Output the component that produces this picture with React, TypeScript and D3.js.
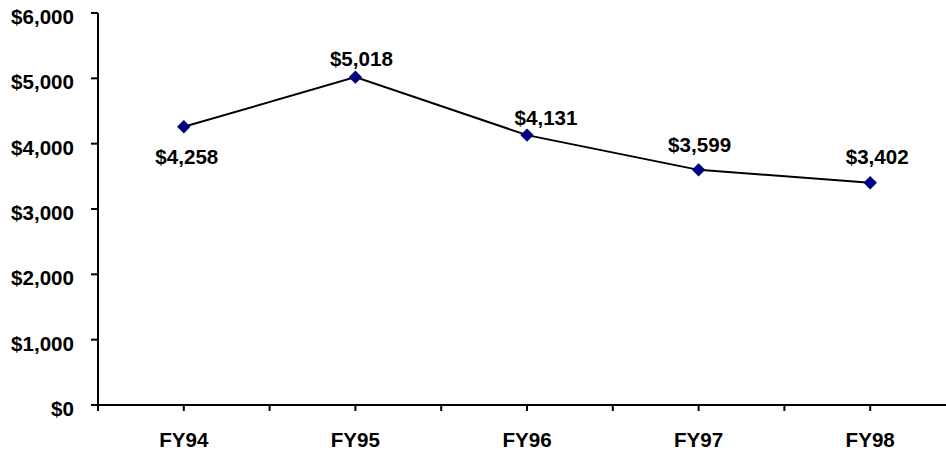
import React from "react";
import * as d3 from "d3";

const categories = ["FY94", "FY95", "FY96", "FY97", "FY98"];
const values = [4258, 5018, 4131, 3599, 3402];
const yTicks = [0, 1000, 2000, 3000, 4000, 5000, 6000];

// label placement relative to marker (dx of text centre, dy of baseline)
const labelOffsets: [number, number][] = [
  [3, 37],
  [6, -11],
  [19, -10],
  [1, -18],
  [7, -19],
];

const W = 946;
const H = 454;
const left = 98;
const top = 13;
const bottom = 405;
const step = 171.6;

export default function App() {
  const y = d3.scaleLinear().domain([0, 6000]).range([bottom, top]);
  const x = d3
    .scaleBand<string>()
    .domain(categories)
    .range([left, left + step * categories.length])
    .paddingInner(0)
    .paddingOuter(0);
  const cx = (c: string) => (x(c) as number) + x.bandwidth() / 2;
  const fmt = (v: number) => "$" + d3.format(",")(v);
  const line = d3
    .line<number>()
    .x((_, i) => cx(categories[i]))
    .y((v) => y(v));
  const xTickPos: number[] = [];
  for (let i = 0; i <= categories.length * 2; i++) {
    xTickPos.push(left + (i * x.bandwidth()) / 2);
  }
  const font = "'Liberation Sans', Arial, sans-serif";
  const diamond = d3.symbol(d3.symbolDiamond2, 115)();
  return (
    <svg
      width={W}
      height={H}
      style={{ position: "absolute", left: 0, top: 0, background: "#fff" }}
      fontFamily={font}
      fontWeight="bold"
      fontSize={20.6}
    >
      <rect x={0} y={0} width={W} height={H} fill="#fff" />
      {/* y axis */}
      <line x1={left} x2={left} y1={top} y2={bottom} stroke="#000" strokeWidth={2} />
      {yTicks.map((t) => (
        <g key={t}>
          <line x1={left - 7} x2={left} y1={y(t)} y2={y(t)} stroke="#000" strokeWidth={2} />
          <text x={74} y={y(t) + 11} textAnchor="end" fill="#000">
            {fmt(t)}
          </text>
        </g>
      ))}
      {/* x axis */}
      <line x1={left - 7} x2={W} y1={bottom} y2={bottom} stroke="#000" strokeWidth={2} />
      {xTickPos.map((p, i) => (
        <line key={i} x1={p} x2={p} y1={bottom} y2={bottom + 6} stroke="#000" strokeWidth={2} />
      ))}
      {categories.map((c) => (
        <text key={c} x={cx(c)} y={447} textAnchor="middle" fill="#000">
          {c}
        </text>
      ))}
      {/* line */}
      <path d={line(values) || ""} fill="none" stroke="#000" strokeWidth={2} />
      {values.map((v, i) => (
        <path
          key={i}
          d={diamond || ""}
          transform={`translate(${cx(categories[i])},${y(v)})`}
          fill="#000080"
        />
      ))}
      {values.map((v, i) => (
        <text
          key={"l" + i}
          x={cx(categories[i]) + labelOffsets[i][0]}
          y={y(v) + labelOffsets[i][1]}
          textAnchor="middle"
          fill="#000"
        >
          {fmt(v)}
        </text>
      ))}
    </svg>
  );
}
